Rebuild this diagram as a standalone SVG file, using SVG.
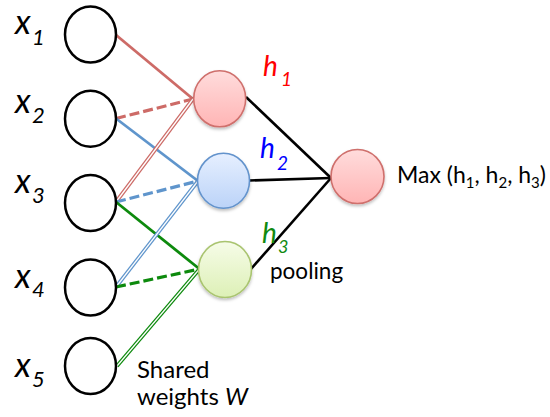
<svg xmlns="http://www.w3.org/2000/svg" width="550" height="417" viewBox="0 0 550 417">
<defs>
<linearGradient id="gRed" x1="0" y1="0" x2="0" y2="1"><stop offset="0" stop-color="#ffdcdc"/><stop offset="1" stop-color="#ffb5b5"/></linearGradient>
<linearGradient id="gBlue" x1="0" y1="0" x2="0" y2="1"><stop offset="0" stop-color="#e6efff"/><stop offset="1" stop-color="#bbd3f8"/></linearGradient>
<linearGradient id="gGreen" x1="0" y1="0" x2="0" y2="1"><stop offset="0" stop-color="#f6fce8"/><stop offset="1" stop-color="#ddf0b6"/></linearGradient>
<filter id="sh" x="-30%" y="-30%" width="160%" height="170%"><feDropShadow dx="0" dy="2" stdDeviation="1.5" flood-color="#000" flood-opacity="0.25"/></filter>
<style>
.in{fill:#fff;stroke:#000;stroke-width:2.5}
.nr{fill:url(#gRed);stroke:#cf6f6c;stroke-width:1.6;filter:url(#sh)}
.nb{fill:url(#gBlue);stroke:#6393cc;stroke-width:1.6;filter:url(#sh)}
.ng{fill:url(#gGreen);stroke:#a9c46f;stroke-width:1.6;filter:url(#sh)}
.l{fill:none;stroke-linecap:butt}
.r{stroke:#cd6b67}
.b{stroke:#5f95cc}
.g{stroke:#0d8a0d}
.s{stroke-width:2.8}
.d{stroke-width:3.2;stroke-dasharray:10 4}
.dbl{stroke-width:3.8}
.w{stroke:#fff;stroke-width:1.3}
.k{stroke:#000;stroke-width:2.6}
text{font-family:Lato,"Open Sans","Liberation Sans",sans-serif;fill:#000}
.xl{font-style:italic;font-size:34px}
.xs{font-style:italic;font-size:22px}
.hl{font-style:italic;font-size:28px}
.hs{font-style:italic;font-size:19px}
.t{font-size:23px}
.t2{font-size:24px}
.tp{font-size:22.5px}
.ts{font-size:15px}
</style>
</defs>
<g id="connectors">
<line class="l r s" x1="116" y1="35" x2="193" y2="99"/>
<line class="l r d" x1="116" y1="118.5" x2="193" y2="99"/>
<line class="l b s" x1="116" y1="118.5" x2="198" y2="181"/>
<line class="l r dbl" x1="116" y1="202" x2="193" y2="99"/>
<line class="l w" x1="116" y1="202" x2="193" y2="99"/>
<line class="l b d" x1="116" y1="202" x2="198" y2="181"/>
<line class="l g s" x1="116" y1="202" x2="199.5" y2="269"/>
<line class="l b dbl" x1="116" y1="287" x2="198" y2="181"/>
<line class="l w" x1="116" y1="287" x2="198" y2="181"/>
<line class="l g d" x1="116" y1="287" x2="199.5" y2="269"/>
<line class="l g dbl" x1="117" y1="366" x2="199.5" y2="269"/>
<line class="l w" x1="117" y1="366" x2="199.5" y2="269"/>
<line class="l k" x1="246" y1="97" x2="331" y2="178"/>
<line class="l k" x1="249.5" y1="180.5" x2="331" y2="178"/>
<line class="l k" x1="251" y1="269" x2="331" y2="178"/>
</g>
<g id="x1"><ellipse class="in" cx="90.5" cy="34.5" rx="25.5" ry="28"/><text x="15" y="34"><tspan class="xl">x</tspan><tspan class="xs" x="32" y="45">1</tspan></text></g>
<g id="x2"><ellipse class="in" cx="90.5" cy="118.7" rx="25.5" ry="28"/><text x="15" y="113"><tspan class="xl">x</tspan><tspan class="xs" x="32" y="123">2</tspan></text></g>
<g id="x3"><ellipse class="in" cx="90.5" cy="203" rx="25.5" ry="28"/><text x="15" y="193"><tspan class="xl">x</tspan><tspan class="xs" x="32" y="203">3</tspan></text></g>
<g id="x4"><ellipse class="in" cx="90.5" cy="287.5" rx="25.5" ry="28"/><text x="15" y="288"><tspan class="xl">x</tspan><tspan class="xs" x="32" y="297">4</tspan></text></g>
<g id="x5"><ellipse class="in" cx="90.5" cy="366" rx="25.5" ry="28"/><text x="15" y="377"><tspan class="xl">x</tspan><tspan class="xs" x="32" y="387">5</tspan></text></g>
<g id="h1"><ellipse class="nr" cx="219.7" cy="98.8" rx="26" ry="28"/><text x="263" y="76" style="fill:#ff0000"><tspan class="hl">h</tspan><tspan class="hs" x="281" y="86">1</tspan></text></g>
<g id="h2"><ellipse class="nb" cx="223.5" cy="180.8" rx="26" ry="27.5"/><text x="260" y="158" style="fill:#0000ff"><tspan class="hl">h</tspan><tspan class="hs" x="277" y="170">2</tspan></text></g>
<g id="h3"><ellipse class="ng" cx="225" cy="269.5" rx="26.5" ry="28"/><text x="262" y="243" style="fill:#108a10"><tspan class="hl">h</tspan><tspan class="hs" x="278" y="253" style="font-size:18px">3</tspan></text></g>
<g id="out"><ellipse class="nr" cx="357.5" cy="176.5" rx="26.5" ry="27"/><text class="t" x="397" y="182.5">Max (h<tspan class="ts" dy="5">1</tspan><tspan dy="-5">, h</tspan><tspan class="ts" dy="5">2</tspan><tspan dy="-5">, h</tspan><tspan class="ts" dy="5">3</tspan><tspan dy="-5">)</tspan></text></g>
<g id="labels">
<text class="tp" x="270" y="279">pooling</text>
<text class="t2" x="137" y="377.5">Shared</text>
<text class="t2" x="137" y="404.5">weights <tspan font-style="italic">W</tspan></text>
</g>
</svg>
